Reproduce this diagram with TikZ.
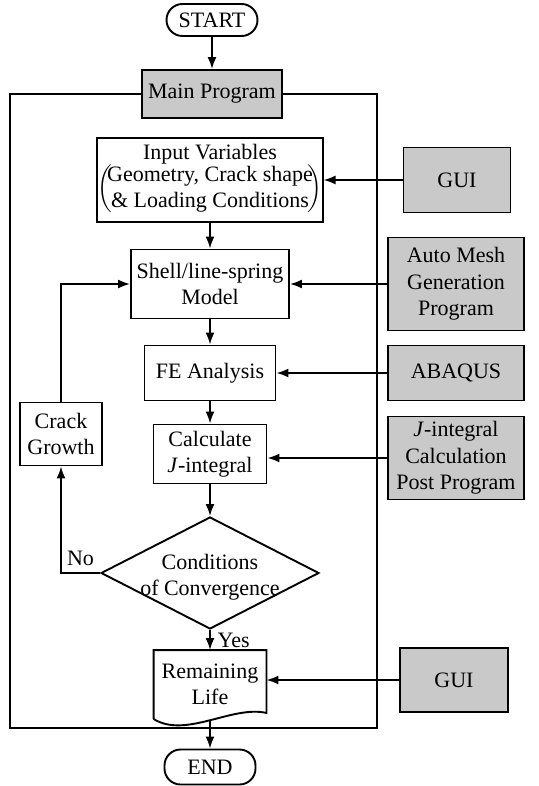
\documentclass[tikz,border=0pt]{standalone}
\usepackage{fontspec}
\setmainfont{Liberation Serif}
\usetikzlibrary{arrows.meta,shapes.geometric}

\begin{document}
\begin{tikzpicture}[x=0.5pt,y=-0.5pt,
  font=\fontsize{11}{13.2}\selectfont,
  line width=0.95pt,
  arr/.style={-{Latex[length=6pt,width=4.5pt]}},
  box/.style={draw,align=center,inner sep=1pt},
  gbox/.style={box,fill=gray!42},
  term/.style={box,rounded corners=8pt},
  ]
  \useasboundingbox (0,0) rectangle (539,786);
  \coordinate (frameBL) at (10,728);
  \coordinate (frameTR) at (377,94);
  \node[term,minimum width=45.5pt,minimum height=16pt] (start) at (212,20) {START};
  \node[gbox,minimum width=70pt,minimum height=24pt] (main) at (212,94) {Main Program};
  \node[box,inner xsep=0pt,minimum width=109pt,minimum height=42pt] (input) at (210,180)
    {Input Variables\\[-2pt]$\left(\hspace{-2.5pt}\begin{tabular}{@{}c@{}}Geometry, Crack shape\\ \& Loading Conditions\end{tabular}\hspace{-2.5pt}\right)$};
  \node[box,minimum width=79pt,minimum height=34.5pt] (shell) at (210,284) {Shell/line-spring\\Model};
  \node[box,minimum width=65.5pt,minimum height=27.5pt] (fe) at (210,373) {FE Analysis};
  \node[box,minimum width=56.5pt,minimum height=29.5pt] (calc) at (210,454) {Calculate\\\textit{J}-integral};
  \node[box,minimum width=41pt,minimum height=31.5pt] (crack) at (61,434) {Crack\\Growth};
  \node[diamond,draw,inner sep=0pt,minimum width=109pt,minimum height=56pt] (dia) at (210,573) {};
  \node[align=center] (diaText) at (210,577) {Conditions\\of Convergence};
  \node[align=center,minimum width=55.5pt,minimum height=33.5pt] (life) at (210,684.5) {Remaining\\Life};
  \node[term,minimum width=45.5pt,minimum height=17.5pt] (end) at (210,767) {END};
  \node[gbox,minimum width=53.5pt,minimum height=32.5pt] (gui1) at (457,180) {GUI};
  \node[gbox,minimum width=68pt,minimum height=46.5pt] (mesh) at (456,284) {Auto Mesh\\Generation\\Program};
  \node[gbox,minimum width=68pt,minimum height=27.5pt] (abaqus) at (456,373) {ABAQUS};
  \node[gbox,minimum width=68pt,minimum height=41.5pt] (post) at (456,458) {\textit{J}-integral\\Calculation\\Post Program};
  \node[gbox,minimum width=54pt,minimum height=32pt] (gui2) at (454,680) {GUI};
  \draw (life.south west) -- (life.north west) -- (life.north east) -- ([yshift=3pt]life.south east)
    .. controls +(-34,-8) and +(32,20) .. (life.south west);
  \draw (main.west) -| (frameBL) -| (frameTR) -- (main.east);
  \draw[arr] (start) -- (main);
  \draw[arr] (input) -- (shell);
  \draw[arr] (shell) -- (fe);
  \draw[arr] (fe) -- (calc);
  \draw[arr] (calc) -- (dia);
  \draw[arr] (dia.south) -- node[right] {Yes} (life.north);
  \draw[arr] ([yshift=-1pt]life.south) -- (end);
  \draw[arr] (dia.west) -| node[above,pos=0.25] {No} (crack);
  \draw[arr] (crack) |- (shell);
  \draw[arr] (gui1) -- (input);
  \draw[arr] (mesh) -- (shell);
  \draw[arr] (abaqus) -- (fe);
  \draw[arr] (post.west) -- (post.west -| calc.east);
  \draw[arr] (gui2.west) -- (gui2.west -| life.east);
\end{tikzpicture}
\end{document}
